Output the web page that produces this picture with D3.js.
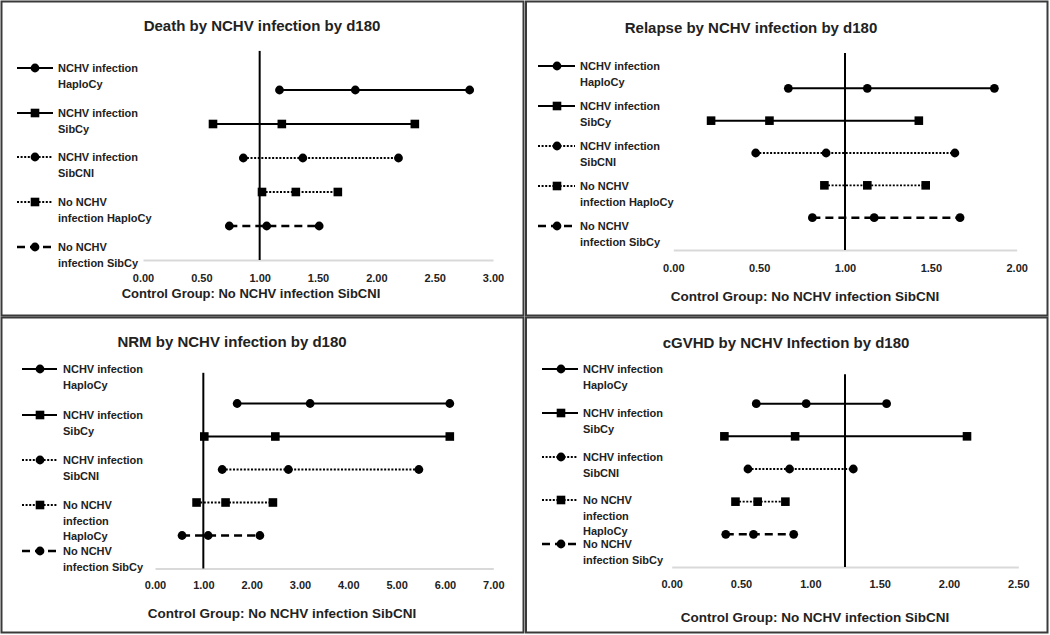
<!DOCTYPE html>
<html>
<head>
<meta charset="utf-8">
<script src="https://cdn.jsdelivr.net/npm/d3@7"></script>
<style>
  html, body { margin: 0; padding: 0; background: #fff; }
  svg { display: block; }
  text { font-family: "Liberation Sans", Arial, sans-serif; font-weight: bold; fill: #222; }
</style>
</head>
<body>
<svg id="chart" width="1050" height="635"></svg>
<script>
// ---------------- DATA ----------------
const seriesNames = [
  "NCHV infection HaploCy",
  "NCHV infection SibCy",
  "NCHV infection SibCNI",
  "No NCHV infection HaploCy",
  "No NCHV infection SibCy"
];
const rowPositions = [5, 4, 3, 2, 1];

const panelTitles = [
  "Death by NCHV infection by d180",
  "Relapse by NCHV infection by d180",
  "NRM by NCHV infection by d180",
  "cGVHD by NCHV Infection by d180"
];
const xAxisTitle = "Control Group: No NCHV infection SibCNI";

// [lower, estimate, upper] per series
const deathValues   = [[1.17, 1.82, 2.80], [0.60, 1.19, 2.33], [0.86, 1.37, 2.19], [1.02, 1.31, 1.67], [0.74, 1.06, 1.51]];
const relapseValues = [[0.67, 1.13, 1.87], [0.22, 0.56, 1.43], [0.48, 0.89, 1.64], [0.88, 1.13, 1.47], [0.81, 1.17, 1.67]];
const nrmValues     = [[1.70, 3.21, 6.10], [1.02, 2.49, 6.10], [1.39, 2.76, 5.46], [0.86, 1.46, 2.44], [0.56, 1.10, 2.17]];
const cgvhdValues   = [[0.61, 0.97, 1.55], [0.38, 0.89, 2.13], [0.55, 0.85, 1.31], [0.46, 0.62, 0.82], [0.39, 0.59, 0.88]];

const deathTicks   = [0, 0.5, 1, 1.5, 2, 2.5, 3];
const relapseTicks = [0, 0.5, 1, 1.5, 2];
const nrmTicks     = [0, 1, 2, 3, 4, 5, 6, 7];
const cgvhdTicks   = [0, 0.5, 1, 1.5, 2, 2.5];

const referenceValues = [1, 1, 1, 1.25];

// legend label lines per panel
const legendLinesWide = [
  ["NCHV infection", "HaploCy"],
  ["NCHV infection", "SibCy"],
  ["NCHV infection", "SibCNI"],
  ["No NCHV", "infection HaploCy"],
  ["No NCHV", "infection SibCy"]
];
const legendLinesNarrow = [
  ["NCHV infection", "HaploCy"],
  ["NCHV infection", "SibCy"],
  ["NCHV infection", "SibCNI"],
  ["No NCHV", "infection", "HaploCy"],
  ["No NCHV", "infection SibCy"]
];

// ---------------- STYLE / LAYOUT ----------------
const seriesStyle = [
  { dash: null,     width: 2,   shape: "circle" },
  { dash: null,     width: 2,   shape: "square" },
  { dash: "2,1.6",  width: 1.8, shape: "circle" },
  { dash: "2,1.6",  width: 1.8, shape: "square" },
  { dash: "8,5",    width: 2.5, shape: "circle" }
];

const panels = [
  { values: deathValues, ticks: deathTicks, title: panelTitles[0], legend: legendLinesWide,
    box: [1.5, 1.5, 523.5, 315.5], xr: [143, 493], yr: [260, 56], refTop: 6.15,
    titleX: 262, titleY: 30.5, xtX: 251, xtY: 297.5, tickDy: 22, xtSize: 13,
    leg: { x0: 17, x1: 53, xm: 35, tx: 58, ys: [68, 113, 157, 202, 247] } },
  { values: relapseValues, ticks: relapseTicks, title: panelTitles[1], legend: legendLinesWide,
    box: [526, 1.5, 1047.5, 315.5], xr: [673.3, 1016.7], yr: [250, 56], refTop: 6.09,
    titleX: 751, titleY: 32.5, xtX: 805, xtY: 300.5, tickDy: 22, xtSize: 13.5,
    leg: { x0: 538, x1: 575, xm: 557, tx: 580, ys: [66, 106, 146, 186, 226] } },
  { values: nrmValues, ticks: nrmTicks, title: panelTitles[2], legend: legendLinesNarrow,
    box: [1.5, 317.5, 523.5, 632.5], xr: [155, 493.3], yr: [568.5, 370.5], refTop: 5.93,
    titleX: 232, titleY: 347, xtX: 282, xtY: 617.5, tickDy: 20, xtSize: 13.5,
    leg: { x0: 22, x1: 57, xm: 40, tx: 63, ys: [369, 415, 460, 505, 551] } },
  { values: cgvhdValues, ticks: cgvhdTicks, title: panelTitles[3], legend: legendLinesNarrow,
    box: [526, 317.5, 1047.5, 632.5], xr: [671.7, 1018.3], yr: [567, 371], refTop: 5.9,
    titleX: 786, titleY: 347.5, xtX: 815, xtY: 622, tickDy: 20.5, xtSize: 13.5,
    leg: { x0: 542, x1: 578, xm: 561, tx: 583, ys: [369, 413, 457, 500, 544] } }
];

const svg = d3.select("#chart");
svg.append("rect").attr("width", 1050).attr("height", 635).attr("fill", "#fff");

function drawMarker(g, shape, x, y) {
  if (shape === "circle") {
    g.append("circle").attr("cx", x).attr("cy", y).attr("r", 4.4).attr("fill", "#000");
  } else {
    const s = 8.6;
    g.append("rect").attr("x", x - s / 2).attr("y", y - s / 2).attr("width", s).attr("height", s).attr("fill", "#000");
  }
}

panels.forEach((p, pi) => {
  const g = svg.append("g");
  const [bx0, by0, bx1, by1] = p.box;
  g.append("rect").attr("x", bx0).attr("y", by0).attr("width", bx1 - bx0).attr("height", by1 - by0)
    .attr("fill", "#fff").attr("stroke", "#3a3a3a").attr("stroke-width", 2);

  const xMax = p.ticks[p.ticks.length - 1];
  const x = d3.scaleLinear().domain([0, xMax]).range(p.xr);
  const y = d3.scaleLinear().domain([0, 6]).range(p.yr);

  // title
  g.append("text").attr("x", p.titleX).attr("y", p.titleY).attr("text-anchor", "middle")
    .style("font-size", "15px").text(p.title);

  // x axis (light gray line, no tick marks)
  const axis = d3.axisBottom(x).tickValues(p.ticks).tickFormat(d3.format(".2f")).tickSize(0).tickPadding(0);
  const ag = g.append("g").attr("transform", `translate(0,${y(0)})`).call(axis);
  ag.select(".domain").attr("stroke", "#d9d9d9").attr("stroke-width", 2);
  ag.selectAll("text").attr("dy", null).attr("y", p.tickDy)
    .style("font-size", "11px").style("font-family", "'Liberation Sans', Arial, sans-serif")
    .style("font-weight", "bold").attr("fill", "#222");

  // x axis title
  g.append("text").attr("x", p.xtX).attr("y", p.xtY).attr("text-anchor", "middle")
    .style("font-size", p.xtSize + "px").text(xAxisTitle);

  // reference line
  g.append("line")
    .attr("x1", x(referenceValues[pi])).attr("x2", x(referenceValues[pi]))
    .attr("y1", y(0)).attr("y2", y(p.refTop))
    .attr("stroke", "#000").attr("stroke-width", 2);

  // series
  p.values.forEach((vals, si) => {
    const st = seriesStyle[si];
    const yy = y(rowPositions[si]);
    const line = d3.line().x(d => x(d)).y(() => yy);
    g.append("path").attr("d", line(vals)).attr("fill", "none")
      .attr("stroke", "#000").attr("stroke-width", st.width)
      .attr("stroke-dasharray", st.dash);
    vals.forEach(v => drawMarker(g, st.shape, x(v), yy));
  });

  // legend
  seriesNames.forEach((name, si) => {
    const st = seriesStyle[si];
    const ly = p.leg.ys[si];
    g.append("line").attr("x1", p.leg.x0).attr("x2", p.leg.x1).attr("y1", ly).attr("y2", ly)
      .attr("stroke", "#000").attr("stroke-width", st.width).attr("stroke-dasharray", st.dash);
    drawMarker(g, st.shape, p.leg.xm, ly);
    const t = g.append("text").attr("x", p.leg.tx).attr("y", ly + 4).style("font-size", "11px");
    p.legend[si].forEach((ln, li) => {
      t.append("tspan").attr("x", p.leg.tx).attr("dy", li === 0 ? 0 : 15.6).text(ln);
    });
  });
});
</script>
</body>
</html>
